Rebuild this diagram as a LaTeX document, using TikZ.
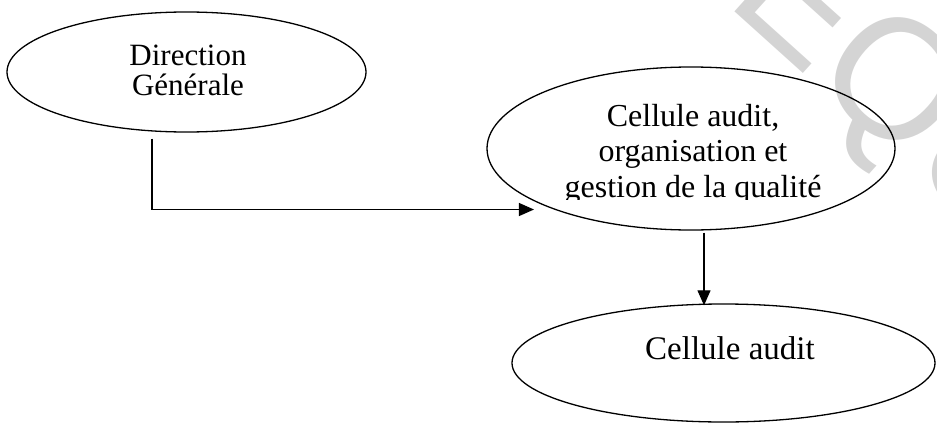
\documentclass[tikz,border=0pt]{standalone}
\usepackage{fontspec}
\setmainfont{Liberation Serif}
\newfontfamily\wmfont{Liberation Sans}
\usetikzlibrary{shapes.geometric,arrows.meta}

\begin{document}
\begin{tikzpicture}[x=1pt,y=-1pt,
  oval/.style={draw, ellipse, line width=1.3pt, inner sep=0pt},
  lbl/.style={align=center, inner sep=0pt, anchor=base},
  arr/.style={line width=1.1pt, -{Triangle[length=15pt,width=13pt]}}]
\useasboundingbox (0,0) rectangle (937,423);

% faint watermark in the upper right corner
\begin{scope}
  \clip (0,0) rectangle (937,423);
  \node[text=black!17, font=\wmfont\fontsize{170}{170}\selectfont,
        rotate=-42, anchor=base west, inner sep=0pt] (wm) at (724,2) {EQUE};
\end{scope}

% units
\node[oval, minimum width=359pt, minimum height=120pt] (dg) at (186.5,72) {};
\node[oval, minimum width=408pt, minimum height=163pt] (cg) at (691,148.5) {};
\node[oval, minimum width=423pt, minimum height=118pt] (ca) at (723.5,363) {};

% labels (anchored on the baseline of their last line)
\node[lbl, font=\fontsize{31}{30}\selectfont] (dgt) at (188,95) {Direction\\Générale};
\begin{scope}
  \clip (480,60) rectangle (900,199.5);
  \node[lbl, font=\fontsize{32}{35.5}\selectfont] (cgt) at (693,197)
    {Cellule audit,\\organisation et\\gestion de la qualité};
\end{scope}
\node[lbl, font=\fontsize{33}{33}\selectfont] (cat) at (730,359) {Cellule audit};

% links
\draw[arr] ([xshift=-34.5pt,yshift=-6pt]dg.south) |- ([xshift=-20pt]cg.204);
\draw[arr] ([xshift=13pt,yshift=-2pt]cg.south) -- ([xshift=13pt,yshift=-2pt]cg.south |- ca.north);
\end{tikzpicture}
\end{document}
